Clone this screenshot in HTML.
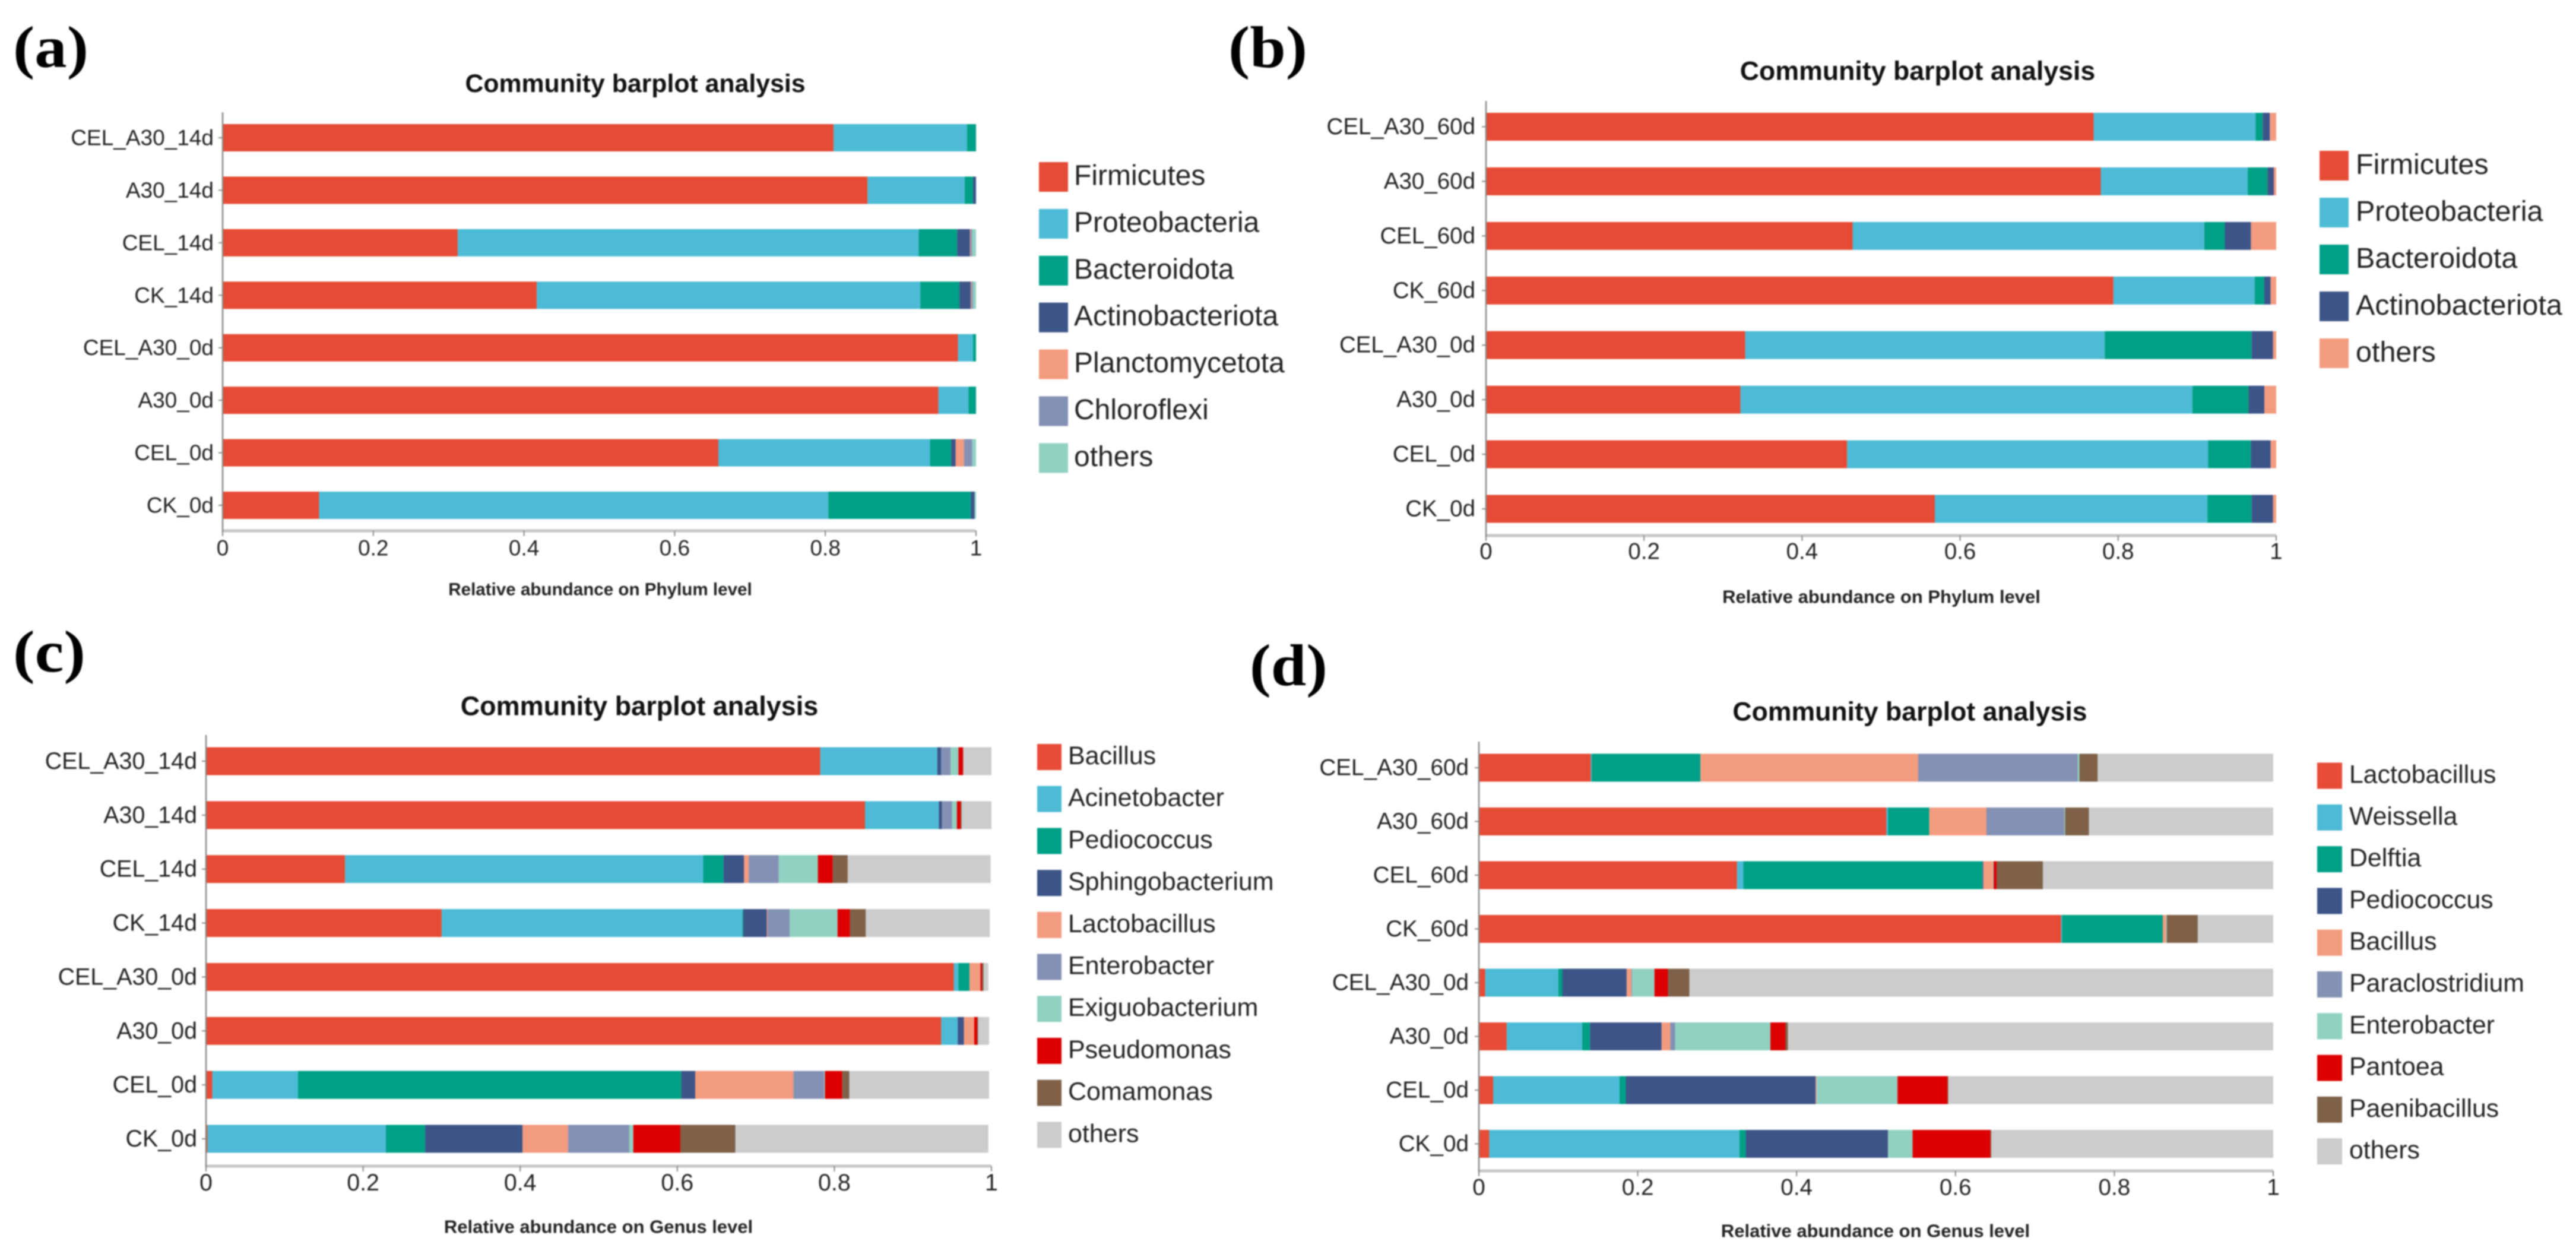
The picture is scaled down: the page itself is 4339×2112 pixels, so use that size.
<!DOCTYPE html>
<html lang="en">
<head>
<meta charset="utf-8">
<title>Community barplot analysis</title>
<style>
html,body{margin:0;padding:0;background:#fff;width:4339px;height:2112px;overflow:hidden}
svg{display:block;filter:blur(1.1px)}
text{font-family:"Liberation Sans",Arial,sans-serif}
</style>
</head>
<body>
<svg id="figure" xmlns="http://www.w3.org/2000/svg" width="4339" height="2112" viewBox="0 0 4339 2112"></svg>
<script>
// Palette
const seriesColors = ['#E64B35','#4DBBD5','#00A087','#3C5488','#F39B7F','#8491B4','#91D1C2','#DC0000','#7E6148','#CCCCCC'];
const axisTicks = [0, 0.2, 0.4, 0.6, 0.8, 1];
const axisTickLabels = ['0','0.2','0.4','0.6','0.8','1'];

// Panel (a)
const aCategories = ['CEL_A30_14d','A30_14d','CEL_14d','CK_14d','CEL_A30_0d','A30_0d','CEL_0d','CK_0d'];
const aNames = ['Firmicutes','Proteobacteria','Bacteroidota','Actinobacteriota','Planctomycetota','Chloroflexi','others'];
const aFirmicutes = [.811,.856,.312,.417,.976,.950,.658,.128];
const aProteobacteria = [.177,.129,.612,.509,.020,.040,.281,.676];
const aBacteroidota = [.012,.011,.051,.052,.004,.010,.028,.189];
const aActinobacteriota = [0,.004,.017,.015,0,0,.006,.005];
const aPlanctomycetota = [0,0,.001,.001,0,0,.011,0];
const aChloroflexi = [0,0,.002,.002,0,0,.011,0];
const aOthers = [0,0,.005,.004,0,0,.005,.002];

// Panel (b)
const bCategories = ['CEL_A30_60d','A30_60d','CEL_60d','CK_60d','CEL_A30_0d','A30_0d','CEL_0d','CK_0d'];
const bNames = ['Firmicutes','Proteobacteria','Bacteroidota','Actinobacteriota','others'];
const bFirmicutes = [.769,.778,.464,.794,.328,.322,.457,.568];
const bProteobacteria = [.205,.186,.445,.179,.455,.572,.457,.345];
const bBacteroidota = [.009,.025,.026,.012,.186,.071,.054,.056];
const bActinobacteriota = [.009,.008,.033,.008,.027,.020,.025,.027];
const bOthers = [.008,.003,.032,.007,.004,.015,.007,.004];

// Panel (c)
const cCategories = ['CEL_A30_14d','A30_14d','CEL_14d','CK_14d','CEL_A30_0d','A30_0d','CEL_0d','CK_0d'];
const cNames = ['Bacillus','Acinetobacter','Pediococcus','Sphingobacterium','Lactobacillus','Enterobacter','Exiguobacterium','Pseudomonas','Comamonas','others'];
const cBacillus = [.782,.839,.177,.300,.952,.936,.008,.002];
const cAcinetobacter = [.149,.094,.456,.383,.006,.021,.109,.227];
const cPediococcus = [0,0,.026,.001,.014,0,.488,.050];
const cSphingobacterium = [.005,.004,.026,.030,0,.008,.018,.124];
const cLactobacillus = [0,0,.006,.001,.014,.013,.125,.058];
const cEnterobacter = [.012,.013,.038,.028,0,0,.039,.078];
const cExiguobacterium = [.010,.006,.050,.061,0,0,.001,.005];
const cPseudomonas = [.006,.005,.019,.016,.002,.004,.022,.060];
const cComamonas = [0,.001,.019,.020,.002,.001,.009,.070];
const cOthers = [.036,.038,.182,.158,.006,.014,.178,.322];

// Panel (d)
const dCategories = ['CEL_A30_60d','A30_60d','CEL_60d','CK_60d','CEL_A30_0d','A30_0d','CEL_0d','CK_0d'];
const dNames = ['Lactobacillus','Weissella','Delftia','Pediococcus','Bacillus','Paraclostridium','Enterobacter','Pantoea','Paenibacillus','others'];
const dLactobacillus = [.141,.513,.325,.733,.008,.035,.018,.013];
const dWeissella = [.001,.002,.008,.001,.092,.095,.159,.315];
const dDelftia = [.137,.052,.301,.127,.005,.010,.008,.008];
const dPediococcus = [0,0,.001,0,.081,.090,.239,.179];
const dBacillus = [.274,.072,.012,.004,.006,.011,.001,0];
const dParaclostridium = [.201,.098,0,0,.001,.006,0,0];
const dEnterobacter = [.002,.001,.001,.001,.028,.120,.102,.031];
const dPantoea = [0,0,.004,0,.017,.019,.063,.098];
const dPaenibacillus = [.023,.030,.058,.039,.027,.003,.001,.001];
const dOthers = [.221,.232,.290,.095,.735,.611,.409,.355];

const SVG_NS = 'http://www.w3.org/2000/svg';
const root = document.getElementById('figure');

function make(tag, parent, attrs, text) {
  const el = document.createElementNS(SVG_NS, tag);
  for (const k in attrs) el.setAttribute(k, attrs[k]);
  if (text !== undefined) el.textContent = text;
  parent.appendChild(el);
  return el;
}
function slug(s) {
  return String(s).toLowerCase().replace(/[^a-z0-9]+/g, '-');
}

function drawPanel(p) {
  const g = make('g', root, {});
  
  

  const xScale = v => p.x0 + (p.x1 - p.x0) * v;
  const yScale = i => p.yFirst + (p.yLast - p.yFirst) * i / (p.categories.length - 1);

  const tag = make('text', g, {x: p.tagX, y: p.tagY, 'font-size': 100, 'font-weight': 'bold', fill: '#000', textLength: p.tagLen, lengthAdjust: 'spacingAndGlyphs', style: 'font-family:"Liberation Serif",serif'}, '(' + p.letter + ')');
  
  

  const title = make('text', g, {x: p.titleX, y: p.titleY, 'font-size': p.titleSize, 'font-weight': 'bold', 'text-anchor': 'middle', 'dominant-baseline': 'central', fill: '#111'}, 'Community barplot analysis');
  
  

  // Stacked bars
  p.categories.forEach((cat, i) => {
    let cum = 0;
    p.series.forEach((vals, s) => {
      const v = vals[i];
      if (v > 0) {
        const rect = make('rect', g, {x: xScale(cum), y: yScale(i) - p.barH / 2, width: xScale(cum + v) - xScale(cum), height: p.barH, fill: seriesColors[s]});
        
        
      }
      cum += v;
    });
    const label = make('text', g, {x: p.x0 - p.labelGap, y: yScale(i), 'font-size': p.tickSize, 'text-anchor': 'end', 'dominant-baseline': 'central', fill: '#222'}, cat);
    
    
    const tick = make('line', g, {x1: p.x0 - 7, x2: p.x0, y1: yScale(i), y2: yScale(i), stroke: '#888', 'stroke-width': 2});
    
    
  });

  // Axes
  const xAxis = make('line', g, {x1: p.x0, x2: p.x1, y1: p.axisY, y2: p.axisY, stroke: '#c6c6c6', 'stroke-width': 5});
  
  
  const yAxis = make('line', g, {x1: p.x0, x2: p.x0, y1: p.axisTop, y2: p.axisY + 2, stroke: '#888', 'stroke-width': 2.5});
  
  

  axisTicks.forEach((t, i) => {
    const tick = make('line', g, {x1: xScale(t), x2: xScale(t), y1: p.axisY, y2: p.axisY + 9, stroke: '#888', 'stroke-width': 2});
    
    
    const label = make('text', g, {x: xScale(t), y: p.xLabelY, 'font-size': p.tickSize, 'text-anchor': 'middle', 'dominant-baseline': 'central', fill: '#222'}, axisTickLabels[i]);
    
    
  });

  const xTitle = make('text', g, {x: p.xTitleX, y: p.xTitleY, 'font-size': p.xTitleSize, 'font-weight': 'bold', 'text-anchor': 'middle', 'dominant-baseline': 'central', fill: '#222'}, p.xTitle);
  
  

  // Legend
  p.names.forEach((name, s) => {
    const cy = p.legFirst + p.legStep * s;
    const entry = make('g', g, {});
    
    
    const sw = make('rect', entry, {x: p.legX, y: cy - p.swH / 2, width: p.swW, height: p.swH, fill: seriesColors[s]});
    
    
    const txt = make('text', entry, {x: p.legTextX, y: cy - 2, 'font-size': p.legSize, 'dominant-baseline': 'central', fill: '#222'}, name);
    
    
  });
}

drawPanel({
  letter: 'a', categories: aCategories, names: aNames,
  series: [aFirmicutes, aProteobacteria, aBacteroidota, aActinobacteriota, aPlanctomycetota, aChloroflexi, aOthers],
  x0: 375, x1: 1644, yFirst: 232, yLast: 851, barH: 46, axisY: 894, axisTop: 189,
  tagX: 22, tagY: 113, tagLen: 127, titleX: 1070, titleY: 141, titleSize: 42.8, tickSize: 37, labelGap: 15,
  xLabelY: 923, xTitle: 'Relative abundance on Phylum level', xTitleX: 1011, xTitleY: 993, xTitleSize: 29.6,
  legX: 1750, swW: 49, swH: 50, legTextX: 1809, legFirst: 298, legStep: 78.9, legSize: 48
});
drawPanel({
  letter: 'b', categories: bCategories, names: bNames,
  series: [bFirmicutes, bProteobacteria, bBacteroidota, bActinobacteriota, bOthers],
  x0: 2503, x1: 3834, yFirst: 213.5, yLast: 857, barH: 47, axisY: 902, axisTop: 170,
  tagX: 2069, tagY: 113, tagLen: 133, titleX: 3230, titleY: 120, titleSize: 44.7, tickSize: 38.5, labelGap: 18,
  xLabelY: 929, xTitle: 'Relative abundance on Phylum level', xTitleX: 3169, xTitleY: 1005, xTitleSize: 31,
  legX: 3907, swW: 49, swH: 50, legTextX: 3968, legFirst: 279, legStep: 79, legSize: 48.5
});
drawPanel({
  letter: 'c', categories: cCategories, names: cNames,
  series: [cBacillus, cAcinetobacter, cPediococcus, cSphingobacterium, cLactobacillus, cEnterobacter, cExiguobacterium, cPseudomonas, cComamonas, cOthers],
  x0: 347, x1: 1670, yFirst: 1282, yLast: 1918, barH: 47, axisY: 1964, axisTop: 1238,
  tagX: 22, tagY: 1131, tagLen: 122, titleX: 1077, titleY: 1189, titleSize: 45, tickSize: 39.4, labelGap: 15,
  xLabelY: 1992, xTitle: 'Relative abundance on Genus level', xTitleX: 1008, xTitleY: 2066, xTitleSize: 31,
  legX: 1747, swW: 41, swH: 44, legTextX: 1799, legFirst: 1275, legStep: 70.7, legSize: 43
});
drawPanel({
  letter: 'd', categories: dCategories, names: dNames,
  series: [dLactobacillus, dWeissella, dDelftia, dPediococcus, dBacillus, dParaclostridium, dEnterobacter, dPantoea, dPaenibacillus, dOthers],
  x0: 2491, x1: 3829, yFirst: 1293, yLast: 1926.5, barH: 47, axisY: 1972, axisTop: 1249,
  tagX: 2105, tagY: 1154, tagLen: 131, titleX: 3217, titleY: 1199, titleSize: 44.6, tickSize: 38.7, labelGap: 17,
  xLabelY: 2000, xTitle: 'Relative abundance on Genus level', xTitleX: 3159, xTitleY: 2073, xTitleSize: 31,
  legX: 3903, swW: 42, swH: 44, legTextX: 3957, legFirst: 1306.5, legStep: 70.3, legSize: 42.8
});
</script>
</body>
</html>
